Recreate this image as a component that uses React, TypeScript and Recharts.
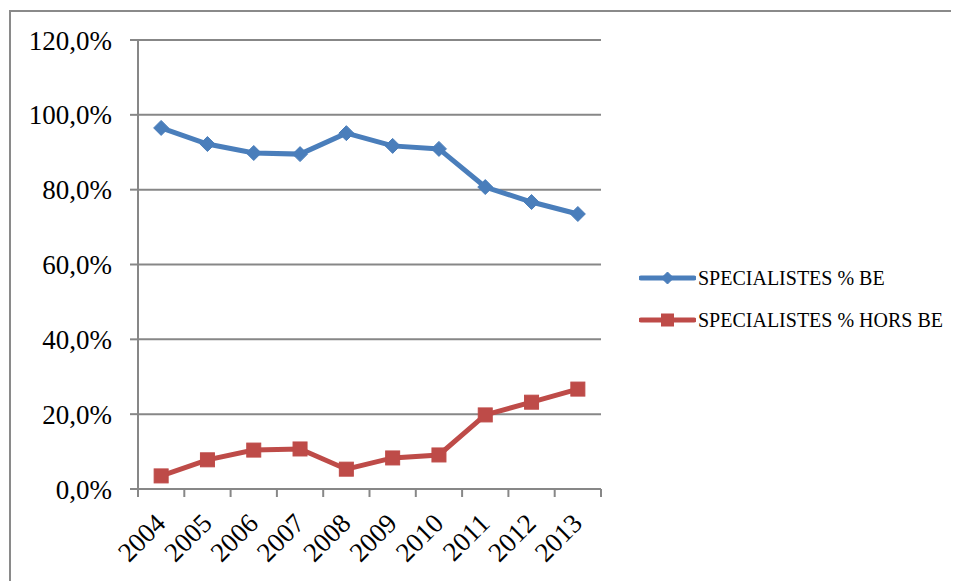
import React from "react";
import { LineChart, Line, XAxis, YAxis, CartesianGrid } from "recharts";

const years = ["2004", "2005", "2006", "2007", "2008", "2009", "2010", "2011", "2012", "2013"];
const specialistesBE = [0.965, 0.922, 0.898, 0.895, 0.951, 0.917, 0.909, 0.807, 0.767, 0.735];
const specialistesHorsBE = [0.035, 0.078, 0.104, 0.107, 0.053, 0.083, 0.091, 0.198, 0.232, 0.267];
const yTicks = [0, 0.2, 0.4, 0.6, 0.8, 1.0, 1.2];

const series = [
  { key: "be", name: "SPECIALISTES % BE", color: "#4A7EBB", marker: "diamond" },
  { key: "hors", name: "SPECIALISTES % HORS BE", color: "#BE4B48", marker: "square" },
];

const data = years.map((year, i) => ({ year, be: specialistesBE[i], hors: specialistesHorsBE[i] }));

const FONT = "'Liberation Serif', serif";
const GRID = "#878787";

const pct = (v: number) => (v * 100).toFixed(1).replace(".", ",") + "%";

const Marker = ({ cx, cy, color, shape, half }: any) => {
  if (cx == null || cy == null) return null;
  if (shape === "diamond") {
    return (
      <path
        d={`M${cx},${cy - half}L${cx + half},${cy}L${cx},${cy + half}L${cx - half},${cy}Z`}
        fill={color}
        stroke={color}
        strokeWidth={1}
        strokeLinejoin="round"
      />
    );
  }
  return (
    <rect x={cx - half} y={cy - half} width={half * 2} height={half * 2} fill={color} stroke={color} strokeWidth={1} />
  );
};

// category labels sit at band centres; Excel-style tick marks sit at band edges
const YearTick = ({ x, y, payload, width, visibleTicksCount, index }: any) => {
  const half = payload.offset || width / visibleTicksCount / 2;
  return (
    <g>
      <line x1={x - half} y1={y} x2={x - half} y2={y + 8} stroke={GRID} strokeWidth={2} />
      {index === visibleTicksCount - 1 && (
        <line x1={x + half} y1={y} x2={x + half} y2={y + 8} stroke={GRID} strokeWidth={2} />
      )}
      <g transform={`translate(${x + 6},${y + 36}) rotate(-45)`}>
        <text textAnchor="end" fontFamily={FONT} fontSize={27} fill="#000">
          {payload.value}
        </text>
      </g>
    </g>
  );
};

const LegendIcon = ({ color, marker }: any) => (
  <svg width={57} height={18} style={{ display: "block", marginRight: 2 }}>
    <line x1={2} y1={9} x2={55} y2={9} stroke={color} strokeWidth={5} strokeLinecap="round" />
    <Marker cx={28.5} cy={9} color={color} shape={marker} half={marker === "diamond" ? 6 : 6} />
  </svg>
);

export default function App() {
  return (
    <div
      style={{
        marginTop: 2,
        marginLeft: 1,
        width: 950,
        height: 571,
        boxSizing: "border-box",
        borderTop: "2px solid #8a8a8a",
        borderLeft: "2px solid #8a8a8a",
        position: "relative",
        background: "#fff",
      }}
    >
      <LineChart width={948} height={569} data={data} margin={{ top: 28, right: 358, bottom: 91, left: 0 }}>
        <CartesianGrid vertical={false} stroke={GRID} strokeWidth={2} />
        <XAxis
          dataKey="year"
          scale="band"
          height={1}
          interval={0}
          axisLine={{ stroke: GRID, strokeWidth: 2 }}
          tickLine={false}
          tickSize={0}
          tickMargin={0}
          tick={<YearTick />}
        />
        <YAxis
          domain={[0, 1.2]}
          ticks={yTicks}
          width={127}
          tickFormatter={pct}
          axisLine={{ stroke: GRID, strokeWidth: 2 }}
          tickLine={{ stroke: GRID, strokeWidth: 2 }}
          tickSize={8}
          tickMargin={18}
          tick={{ fontFamily: FONT, fontSize: 27, fill: "#000" }}
        />
        {series.map((s) => (
          <Line
            key={s.key}
            dataKey={s.key}
            name={s.name}
            stroke={s.color}
            strokeWidth={5}
            isAnimationActive={false}
            dot={(p: any) => (
              <Marker
                key={p.key ?? p.index}
                cx={p.cx}
                cy={p.cy}
                color={s.color}
                shape={s.marker}
                half={s.marker === "diamond" ? 7.5 : 7}
              />
            )}
            activeDot={false}
          />
        ))}
      </LineChart>
      <div style={{ position: "absolute", left: 628, top: 255, fontFamily: FONT, fontSize: 20, color: "#000" }}>
        {series.map((s) => (
          <div key={s.key} style={{ display: "flex", alignItems: "center", height: 22, marginBottom: 20 }}>
            <LegendIcon color={s.color} marker={s.marker} />
            <span>{s.name}</span>
          </div>
        ))}
      </div>
    </div>
  );
}
